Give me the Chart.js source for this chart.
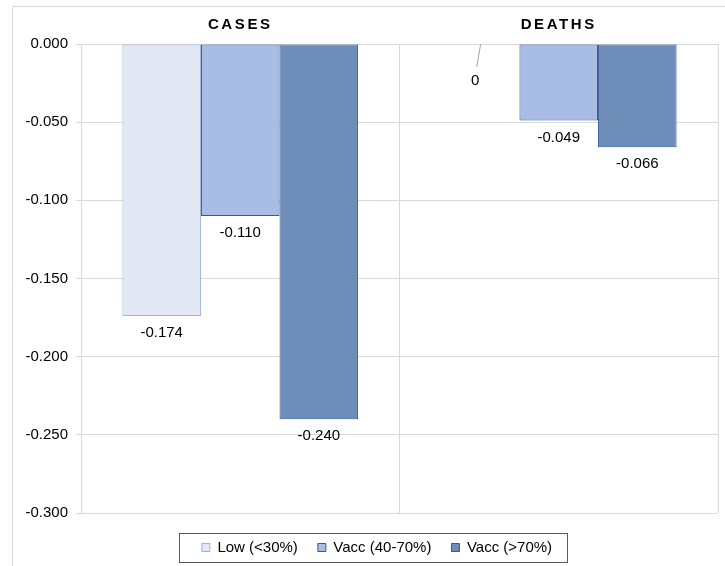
<!DOCTYPE html>
<html>
<head>
<meta charset="utf-8">
<script src="https://cdn.jsdelivr.net/npm/chart.js@4/dist/chart.umd.min.js"></script>
<style>
  html, body { margin: 0; padding: 0; background: #fff; }
  #wrap { position: relative; width: 725px; height: 566px; }
</style>
</head>
<body>
<div id="wrap"><canvas id="chart"></canvas></div>
<script>
(function () {
  'use strict';

  var categories = ['CASES', 'DEATHS'];
  var seriesNames = ['Low (<30%)', 'Vacc (40-70%)', 'Vacc (>70%)'];
  var lowValues = [-0.174, 0];
  var midValues = [-0.110, -0.049];
  var highValues = [-0.240, -0.066];

  var fills = ['#e2e8f4', '#a9bce3', '#6f8db9'];
  var borders = ['#9fb3de', '#35589a', '#35589a'];
  var gridColor = '#d9d9d9';
  var font = "'Liberation Sans', Arial, sans-serif";

  Chart.defaults.font.family = font;
  Chart.defaults.color = '#000';

  function makeSet(i, values) {
    return {
      label: seriesNames[i],
      data: values,
      backgroundColor: fills[i],
      borderColor: borders[i],
      borderWidth: 1,
      borderSkipped: false,
      barPercentage: 1,
      categoryPercentage: 0.74
    };
  }

  // white background + partial outer frame
  var framePlugin = {
    id: 'frame',
    beforeDraw: function (chart) {
      var c = chart.ctx;
      c.save();
      c.fillStyle = '#fff';
      c.fillRect(0, 0, chart.width, chart.height);
      c.strokeStyle = gridColor;
      c.lineWidth = 1;
      c.beginPath();
      c.moveTo(12.5, chart.height);
      c.lineTo(12.5, 6.5);
      c.lineTo(chart.width, 6.5);
      c.stroke();
      c.restore();
    }
  };

  // legend sits centred under the frame, not under the whole canvas
  var legendShift = {
    id: 'legendShift',
    afterLayout: function (chart) {
      var lg = chart.legend;
      lg.left = 36;
      lg.width = lg.right - lg.left;
    }
  };

  // spaced category titles on top
  var titlesPlugin = {
    id: 'catTitles',
    afterDraw: function (chart) {
      var c = chart.ctx;
      var xs = chart.scales.x;
      c.save();
      c.font = 'bold 15px ' + font;
      c.fillStyle = '#000';
      c.textAlign = 'center';
      c.textBaseline = 'middle';
      c.letterSpacing = '2.6px';
      categories.forEach(function (cat, i) {
        c.fillText(cat, xs.getPixelForValue(i), chart.chartArea.top - 19);
      });
      c.restore();
    }
  };

  // value labels under bars
  var labelsPlugin = {
    id: 'valueLabels',
    afterDatasetsDraw: function (chart) {
      var c = chart.ctx;
      c.save();
      c.font = '15px ' + font;
      c.fillStyle = '#000';
      c.textAlign = 'center';
      c.textBaseline = 'middle';
      chart.data.datasets.forEach(function (ds, di) {
        var meta = chart.getDatasetMeta(di);
        meta.data.forEach(function (bar, i) {
          var v = ds.data[i];
          if (v === 0) {
            c.strokeStyle = '#a6a6a6';
            c.lineWidth = 1;
            c.beginPath();
            c.moveTo(bar.x + 0.5, bar.y);
            c.lineTo(bar.x - 3.5, bar.y + 23);
            c.stroke();
            c.fillText('0', bar.x - 5, bar.y + 37);
          } else {
            c.fillText(v.toFixed(3), bar.x, bar.y + 17);
          }
        });
      });
      c.restore();
    }
  };

  // border box round the legend
  var legendBoxPlugin = {
    id: 'legendBox',
    afterDraw: function (chart) {
      var hb = chart.legend.legendHitBoxes;
      if (!hb || !hb.length) return;
      var first = hb[0];
      var last = hb[hb.length - 1];
      var left = Math.round(first.left - 23) + 0.5;
      var right = Math.round(last.left + last.width + 15) + 0.5;
      var top = Math.round(first.top - 7) + 0.5;
      var c = chart.ctx;
      c.save();
      c.strokeStyle = '#595959';
      c.lineWidth = 1;
      c.strokeRect(left, top, right - left, 29);
      c.restore();
    }
  };

  var ctx = document.getElementById('chart').getContext('2d');

  new Chart(ctx, {
    type: 'bar',
    data: {
      labels: categories,
      datasets: [
        makeSet(0, lowValues),
        makeSet(1, midValues),
        makeSet(2, highValues)
      ]
    },
    options: {
      responsive: true,
      maintainAspectRatio: false,
      animation: false,
      layout: { padding: { left: 0, right: 7, top: 0, bottom: 1 } },
      scales: {
        x: {
          position: 'top',
          offset: true,
          grid: { offset: true, color: gridColor, drawTicks: false },
          border: { color: gridColor },
          ticks: { display: false },
          afterFit: function (s) { s.height = 44; }
        },
        y: {
          min: -0.3,
          max: 0,
          ticks: {
            stepSize: 0.05,
            padding: 8,
            font: { size: 15 },
            color: '#000',
            callback: function (v) { return Number(v).toFixed(3); }
          },
          grid: { color: gridColor, tickLength: 5 },
          border: { color: gridColor },
          afterFit: function (s) { s.width = 81; }
        }
      },
      plugins: {
        tooltip: { enabled: false },
        legend: {
          position: 'bottom',
          title: { display: true, text: '', font: { size: 6, lineHeight: 1 }, padding: { top: 1, bottom: 0 } },
          labels: {
            boxWidth: 8,
            boxHeight: 8,
            padding: 20,
            color: '#000',
            font: { size: 15 }
          }
        }
      }
    },
    plugins: [framePlugin, legendShift, titlesPlugin, labelsPlugin, legendBoxPlugin]
  });
}());
</script>
</body>
</html>
